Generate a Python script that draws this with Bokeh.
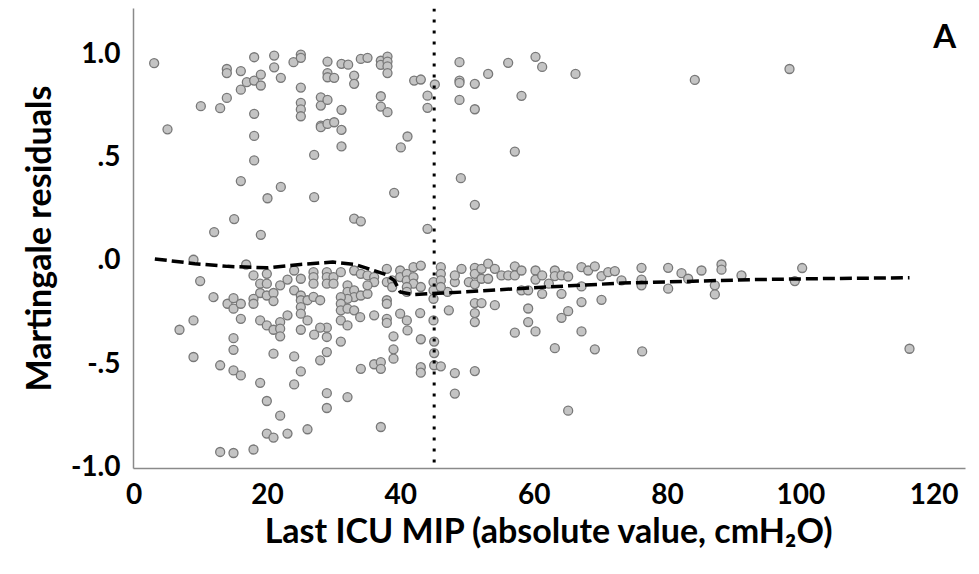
from bokeh.plotting import figure
from bokeh.models import Range1d, FixedTicker, Span, Label
from bokeh.embed import file_html
from bokeh.resources import INLINE

# Last ICU MIP (absolute value, cmH2O)
mip = [
    3.0, 5.0, 10.0, 12.9, 13.9, 13.9, 13.9, 16.0, 16.0, 16.9, 18.0, 18.0, 19.0, 19.0, 18.0, 18.0, 18.0,
    21.0, 21.0, 22.0, 23.9, 25.0, 25.0, 25.0, 25.0, 25.0, 25.0, 27.0, 28.0, 28.0, 29.0, 29.0, 29.0, 29.0,
    30.0, 28.0, 28.0, 29.0, 30.0, 31.1, 31.1, 31.1, 31.1, 32.1, 33.0, 33.0, 34.0, 35.0, 37.0, 37.0,
    38.0, 38.0, 38.0, 38.0, 37.0, 37.0, 38.0, 41.0, 40.0, 42.0, 43.0, 44.0, 44.0, 45.1, 48.8, 48.8,
    48.8, 48.8, 51.1, 51.1, 53.1, 56.1, 58.1, 60.2, 61.2, 57.1, 66.2, 84.1, 98.3,
    16.0, 22.0, 20.0, 27.0, 39.0, 15.0, 12.0, 19.0, 33.0, 34.0, 44.0, 49.0, 51.1,
    # below zero
    8.9, 9.9, 11.9, 8.9, 6.8, 16.8, 17.9, 19.9, 18.9, 19.9, 21.9, 23.0, 24.0, 25.0, 18.9, 19.9, 20.9,
    20.9, 17.9, 17.9, 14.0, 14.9, 14.9, 16.0, 24.0, 25.0, 25.0, 26.0, 25.0, 25.0, 26.0, 16.0, 18.9,
    19.9, 21.9, 23.0, 20.9, 21.9, 25.0,
    26.9, 26.9, 26.9, 26.9, 27.9, 28.9, 28.9, 28.9, 29.9, 29.9, 31.0, 32.0, 32.0, 33.0, 33.0, 32.0,
    34.0, 35.0, 31.0, 31.0, 31.0, 32.0, 33.0, 31.0, 32.0, 28.9, 27.9, 33.0, 34.0, 35.0, 36.0, 36.0,
    37.9, 37.9, 37.9, 37.9, 38.7, 38.7, 39.9, 39.9, 40.9, 40.9, 41.9, 43.0, 41.9, 41.9, 43.0, 40.9,
    44.9, 44.9, 44.9, 44.9, 46.0, 46.0, 46.0, 47.0, 47.2, 49.1, 48.1, 42.9, 39.9, 40.9, 36.0, 33.9,
    37.9, 37.9, 46.0, 48.1, 35.0, 40.9,
    8.9, 12.9, 12.9, 14.9, 17.9, 14.9, 14.9, 14.9, 16.0, 21.9, 18.9, 19.9, 21.9, 19.9, 20.9, 23.0,
    26.0, 20.9, 24.0, 25.0, 24.0, 27.0, 28.9, 27.9, 28.9, 28.9, 28.9, 31.0, 32.0, 34.0, 36.0, 37.0,
    37.0, 37.0, 38.9, 38.9, 38.9, 41.0, 43.0, 43.0, 43.0, 45.0, 45.0, 45.0, 46.0, 48.1, 48.1,
    51.1, 51.1, 51.1, 57.1, 59.1, 60.2, 59.1, 63.1, 64.1, 65.1, 65.1, 67.1, 69.1, 76.2,
    50.2, 51.1, 51.1, 51.1, 52.1, 52.1, 53.1, 53.1, 54.1, 51.1, 52.1, 54.1, 55.1, 56.1, 57.1, 57.1,
    58.1, 58.1, 59.1, 60.2, 60.2, 61.2, 61.2, 62.2, 63.1, 63.1, 64.1, 65.1, 64.1, 67.1, 67.1, 67.1,
    68.1, 69.1, 70.1, 70.1, 71.1, 72.1, 73.1, 76.1, 76.1, 76.1, 80.1, 80.1, 82.1, 83.1, 85.1, 87.1,
    87.1, 88.1, 88.1, 91.1, 99.1, 100.2, 116.3,
]

# Martingale residuals
resid = [
    0.948, 0.628, 0.740, 0.730, 0.920, 0.900, 0.780, 0.910, 0.820, 0.856, 0.977, 0.864, 0.893, 0.840, 0.703, 0.596, 0.477,
    0.985, 0.928, 0.877, 0.953, 0.990, 0.974, 0.830, 0.756, 0.724, 0.691, 0.504, 0.783, 0.743, 0.956, 0.900, 0.880, 0.770,
    0.877, 0.646, 0.638, 0.654, 0.662, 0.722, 0.625, 0.545, 0.945, 0.941, 0.888, 0.848, 0.969, 0.974, 0.960, 0.940,
    0.980, 0.956, 0.933, 0.900, 0.788, 0.738, 0.711, 0.593, 0.540, 0.864, 0.869, 0.791, 0.732, 0.845, 0.953, 0.864,
    0.853, 0.770, 0.848, 0.725, 0.896, 0.950, 0.790, 0.979, 0.930, 0.520, 0.896, 0.867, 0.920,
    0.377, 0.349, 0.294, 0.299, 0.320, 0.193, 0.130, 0.117, 0.195, 0.182, 0.146, 0.391, 0.262,
    # below zero
    -0.004, -0.107, -0.185, -0.298, -0.343, -0.027, -0.080, -0.072, -0.120, -0.120, -0.128, -0.100, -0.056, -0.096, -0.165, -0.177, -0.165,
    -0.204, -0.193, -0.217, -0.217, -0.190, -0.241, -0.217, -0.152, -0.177, -0.200, -0.200, -0.233, -0.265, -0.298, -0.290, -0.298,
    -0.322, -0.306, -0.273, -0.343, -0.338, -0.343,
    -0.064, -0.088, -0.120, -0.184, -0.200, -0.064, -0.088, -0.120, -0.088, -0.120, -0.064, -0.128, -0.160, -0.152, -0.185, -0.193,
    -0.177, -0.169, -0.185, -0.217, -0.249, -0.241, -0.249, -0.298, -0.322, -0.333, -0.333, -0.056, -0.072, -0.080, -0.088, -0.112,
    -0.048, -0.112, -0.200, -0.217, -0.104, -0.136, -0.056, -0.088, -0.072, -0.104, -0.040, -0.032, -0.088, -0.120, -0.136, -0.136,
    -0.112, -0.152, -0.193, -0.298, -0.040, -0.072, -0.104, -0.160, -0.249, -0.048, -0.112, -0.262, -0.265, -0.298, -0.273, -0.282,
    -0.290, -0.310, -0.136, -0.080, -0.128, -0.160,
    -0.475, -0.515, -0.935, -0.940, -0.923, -0.384, -0.440, -0.540, -0.564, -0.375, -0.600, -0.688, -0.759, -0.846, -0.865, -0.846,
    -0.825, -0.459, -0.472, -0.545, -0.608, -0.367, -0.378, -0.491, -0.451, -0.650, -0.722, -0.400, -0.669, -0.532, -0.510, -0.500,
    -0.532, -0.814, -0.375, -0.438, -0.483, -0.346, -0.389, -0.524, -0.551, -0.400, -0.456, -0.515, -0.520, -0.553, -0.652,
    -0.262, -0.306, -0.543, -0.357, -0.306, -0.351, -0.240, -0.432, -0.285, -0.253, -0.735, -0.351, -0.438, -0.448,
    -0.112, -0.043, -0.072, -0.123, -0.048, -0.096, -0.023, -0.096, -0.048, -0.214, -0.214, -0.224, -0.080, -0.080, -0.036, -0.080,
    -0.056, -0.152, -0.152, -0.056, -0.100, -0.080, -0.169, -0.120, -0.056, -0.083, -0.080, -0.085, -0.169, -0.040, -0.133, -0.209,
    -0.056, -0.036, -0.083, -0.198, -0.064, -0.059, -0.104, -0.043, -0.100, -0.128, -0.043, -0.144, -0.069, -0.096, -0.056, -0.128,
    -0.172, -0.027, -0.052, -0.080, -0.107, -0.044, -0.435,
]

# Smoothed (loess) fit
fit_x = [3.1, 9.1, 14.0, 19.9, 24.9, 29.8, 33.2, 35.2, 37.7, 39.0, 39.9, 41.9, 44.6, 49.5, 57.4, 65.3, 73.2, 85.0, 92.9, 103.8, 116.3]
fit_y = [0.0, -0.023, -0.036, -0.043, -0.027, -0.015, -0.027, -0.048, -0.075, -0.104, -0.160, -0.173, -0.168, -0.160, -0.144, -0.130, -0.117, -0.107, -0.100, -0.095, -0.091]

cutoff = 45

x_ticks = [0, 20, 40, 60, 80, 100, 120]
y_ticks = [-1.0, -0.5, 0.0, 0.5, 1.0]
y_tick_labels = {-1.0: "-1.0", -0.5: "-.5", 0.0: ".0", 0.5: ".5", 1.0: "1.0"}

FONT = "Lato"

p = figure(width=979, height=574, output_backend="svg", toolbar_location=None,
           x_range=Range1d(-0.1, 124.7), y_range=Range1d(-1.015, 1.213),
           min_border_left=133, min_border_right=14, min_border_top=8, min_border_bottom=106)
p.outline_line_color = None
p.grid.visible = False
p.background_fill_color = "white"

for ax in (p.xaxis[0], p.yaxis[0]):
    ax.axis_line_color = "#8a8a8a"
    ax.axis_line_width = 1.5
    ax.major_tick_line_color = None
    ax.minor_tick_line_color = None
    ax.major_label_text_font = FONT
    ax.major_label_text_font_style = "bold"
    ax.major_label_text_font_size = "28px"
    ax.major_label_text_color = "black"
    ax.axis_label_text_font = FONT
    ax.axis_label_text_font_style = "bold"
    ax.axis_label_text_font_size = "34px"
    ax.axis_label_text_color = "black"

p.xaxis.ticker = FixedTicker(ticks=x_ticks)
p.yaxis.ticker = FixedTicker(ticks=y_ticks)
p.yaxis.major_label_overrides = y_tick_labels
p.xaxis.major_label_standoff = 8
p.yaxis.major_label_standoff = 7
p.xaxis.axis_label = "Last ICU MIP (absolute value, cmH\u2082O)"
p.yaxis.axis_label = "Martingale residuals"
p.xaxis.axis_label_standoff = 2
p.yaxis.axis_label_standoff = 10

p.scatter(mip, resid, size=9, fill_color="#c4c4c4", line_color="#787878", line_width=1.3)

p.line(fit_x, fit_y, line_color="black", line_width=3.5, line_dash="12 5")

p.add_layout(Span(location=cutoff, dimension="height", line_color="black",
                  line_width=3, line_dash="3 8"))

p.add_layout(Label(x=121.6, y=1.085, text="A", text_font=FONT, text_font_style="bold",
                   text_font_size="33px", text_align="center", text_baseline="middle",
                   text_color="black"))

open("out.html", "w").write(file_html(p, INLINE))
